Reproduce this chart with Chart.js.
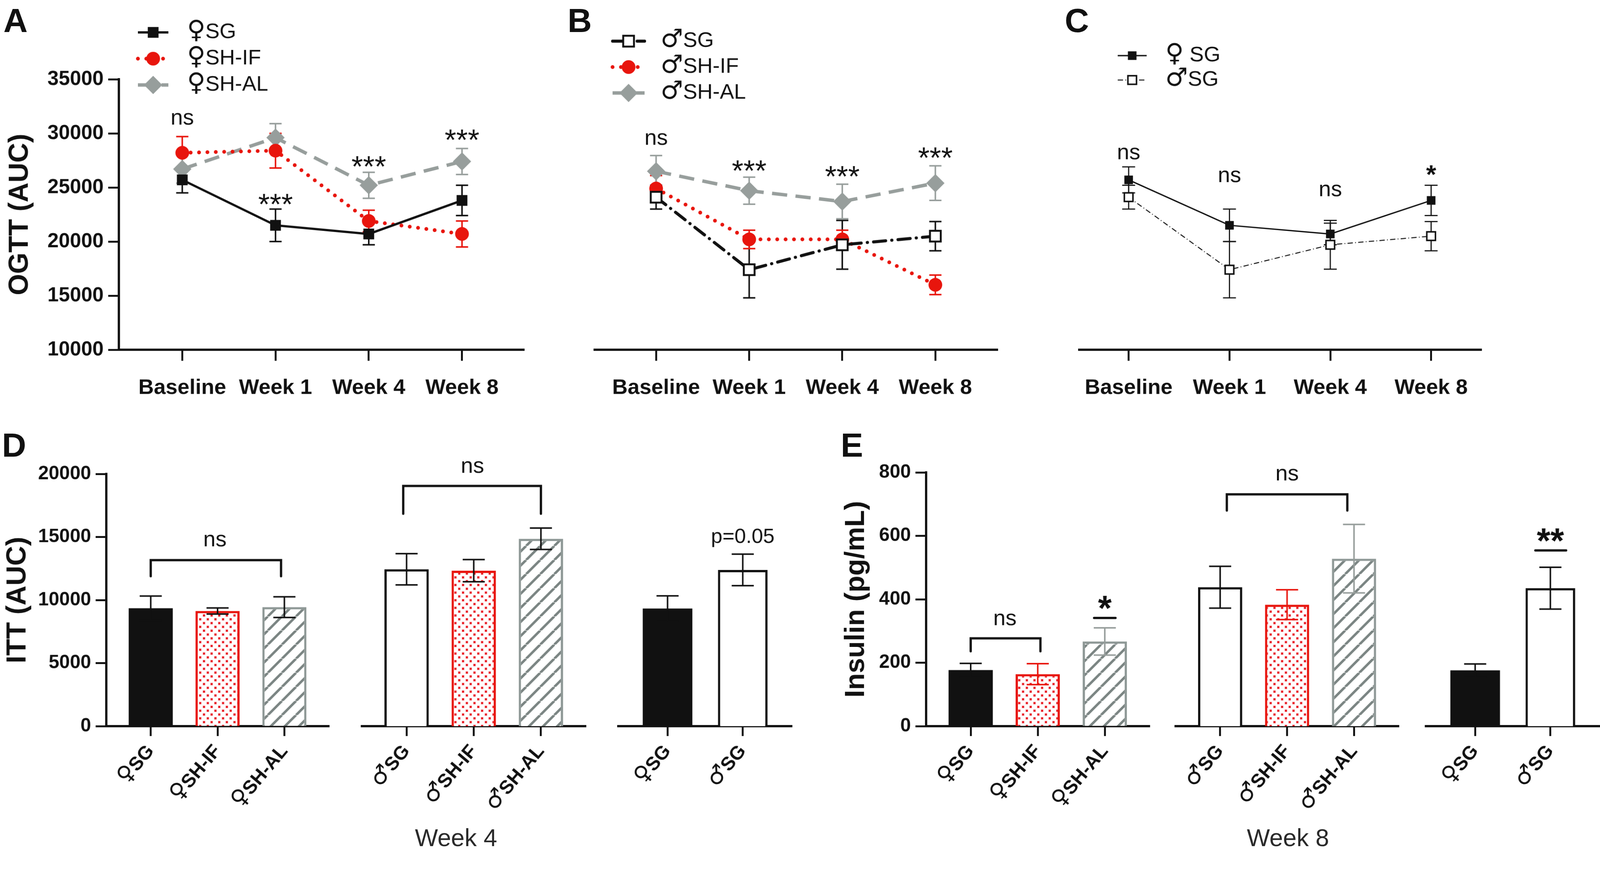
<!DOCTYPE html>
<html>
<head>
<meta charset="utf-8">
<script src="https://cdn.jsdelivr.net/npm/chart.js@4.4.1/dist/chart.umd.min.js"></script>
<style>
  @font-face { font-family: 'Sym'; src: local('DejaVu Sans'); font-weight: normal; unicode-range: U+2640, U+2642; size-adjust: 118%; }
  @font-face { font-family: 'Sym'; src: local('DejaVu Sans Bold'), local('DejaVuSans-Bold'); font-weight: bold; unicode-range: U+2640, U+2642; size-adjust: 118%; }
  html, body { margin: 0; background: #fff; overflow: hidden; }
  #page { position: absolute; left: 0; top: 0; width: 4200px; height: 2245px; transform-origin: 0 0; }
  canvas { position: absolute; }
  .txt { position: absolute; font-family: 'Liberation Sans', Arial, Helvetica, sans-serif; line-height: 1; white-space: nowrap; color: #111; }
  .letter { font-size: 88px; font-weight: bold; }
  .week { font-size: 64px; color: #2a2a2a; transform: translateX(-50%); }
</style>
</head>
<body>
<div id="page">
<div class="txt letter" style="left:9px;top:10px">A</div>
<div class="txt letter" style="left:1490px;top:10px">B</div>
<div class="txt letter" style="left:2795px;top:10px">C</div>
<div class="txt letter" style="left:5px;top:1125px">D</div>
<div class="txt letter" style="left:2207px;top:1125px">E</div>
<div class="txt week" style="left:1197px;top:2167px">Week 4</div>
<div class="txt week" style="left:3381px;top:2167px">Week 8</div>

<canvas id="cA" width="1400" height="1100" style="left:0;top:0"></canvas>
<canvas id="cB" width="1400" height="1100" style="left:1400px;top:0"></canvas>
<canvas id="cC" width="1400" height="1100" style="left:2800px;top:0"></canvas>
<canvas id="cD1" width="900" height="1145" style="left:0;top:1100px"></canvas>
<canvas id="cD2" width="700" height="1145" style="left:900px;top:1100px"></canvas>
<canvas id="cD3" width="550" height="1145" style="left:1600px;top:1100px"></canvas>
<canvas id="cE1" width="950" height="1145" style="left:2150px;top:1100px"></canvas>
<canvas id="cE2" width="650" height="1145" style="left:3050px;top:1100px"></canvas>
<canvas id="cE3" width="500" height="1145" style="left:3700px;top:1100px"></canvas>
</div>

<script>
// OGTT, time points
var weeks = ['Baseline', 'Week 1', 'Week 4', 'Week 8'];
var ogttTicks = [10000, 15000, 20000, 25000, 30000, 35000];

// females (A) - mean and SEM
var fSG = [25700, 21500, 20700, 23800];
var fSGErr = [1200, 1500, 1000, 1400];
var fIF = [28200, 28400, 21900, 20700];
var fIFErr = [1500, 1600, 1000, 1200];
var fAL = [26700, 29600, 25200, 27400];
var fALErr = [1300, 1300, 1200, 1200];

// males (B)
var mSG = [24100, 17400, 19700, 20500];
var mSGErr = [1100, 2600, 2250, 1350];
var mIF = [24900, 20200, 20200, 16000];
var mIFErr = [1200, 850, 850, 900];
var mAL = [26500, 24700, 23700, 25400];
var mALErr = [1450, 1250, 1600, 1600];

// ITT week 4 (D)
var femGroups = ['♀SG', '♀SH-IF', '♀SH-AL'];
var malGroups = ['♂SG', '♂SH-IF', '♂SH-AL'];
var sgGroups = ['♀SG', '♂SG'];
var ittTicks = [0, 5000, 10000, 15000, 20000];
var ittF = [9350, 9130, 9440];
var ittFErr = [970, 240, 820];
var ittM = [12440, 12330, 14860];
var ittMErr = [1240, 880, 850];
var ittSG = [9330, 12390];
var ittSGErr = [1000, 1250];

// insulin week 8 (E)
var insTicks = [0, 200, 400, 600, 800];
var insF = [177, 164, 267];
var insFErr = [21, 33, 43];
var insM = [438, 383, 528];
var insMErr = [66, 47, 108];
var insSG = [176, 435];
var insSGErr = [20, 66];

// significance marks: x = group index, y = value where the mark sits
var notesA = [{ x: 0, y: 31340, text: 'ns', kind: 'ns' }, { x: 1, y: 24045, text: '***', kind: 'stars' },
  { x: 2, y: 27507, text: '***', kind: 'stars' }, { x: 3, y: 29980, text: '***', kind: 'stars' }];
var notesB = [{ x: 0, y: 29485, text: 'ns', kind: 'ns' }, { x: 1, y: 27136, text: '***', kind: 'stars' },
  { x: 2, y: 26592, text: '***', kind: 'stars' }, { x: 3, y: 28323, text: '***', kind: 'stars' }];
var notesC = [{ x: 0, y: 28125, text: 'ns', kind: 'ns' }, { x: 1, y: 26023, text: 'ns', kind: 'ns' },
  { x: 2, y: 24737, text: 'ns', kind: 'ns' }, { x: 3, y: 26715, text: '*', kind: 'star1' }];
var notesD1 = [{ x1: 0, x2: 1.95, y: 13164, leg: 11885 }, { x: 0.96, y: 14707, text: 'ns', kind: 'ns' }];
var notesD2 = [{ x1: -0.05, x2: 2, y: 19051, leg: 16846 }, { x: 0.98, y: 20551, text: 'ns', kind: 'ns' }];
var notesD3 = [{ x: 1, y: 15126, text: 'p=0.05', kind: 'p' }];
var notesE1 = [{ x1: 0, x2: 1.04, y: 277, leg: 236 }, { x: 0.51, y: 337, text: 'ns', kind: 'ns' },
  { x1: 1.84, x2: 2.16, y: 341 }, { x: 2, y: 396, text: '*', kind: 'sig' }];
var notesE2 = [{ x1: 0.1, x2: 1.9, y: 731, leg: 680 }, { x: 1, y: 793, text: 'ns', kind: 'ns' }];
var notesE3 = [{ x1: 0.8, x2: 1.21, y: 554 }, { x: 1, y: 609, text: '**', kind: 'sig' }];

// ---- styles ----
var FONT = "Sym, 'Liberation Sans', Arial, Helvetica, sans-serif";
var INK = '#111111', RED = '#e8150d', GRAY = '#979e9c', GRAYBAR = '#8e9896', STRIPE = '#7b8583';
var NOTE_FONT = {
  ns: { size: 58, bold: false, k: 0.26 },
  stars: { size: 78, bold: false, k: 0.56 },
  star1: { size: 68, bold: true, k: 0.56 },
  sig: { size: 92, bold: true, k: 0.56 },
  p: { size: 54, bold: false, k: 0.36 }
};
Chart.defaults.font.family = FONT;
Chart.defaults.color = INK;

// keep the 4200 x 2245 figure inside the visible viewport
(function () {
  var s = Math.min(window.innerWidth / 4200, window.innerHeight / 2245);
  if (s > 0 && Math.abs(s - 1) > 0.002) document.getElementById('page').style.transform = 'scale(' + s + ')';
})();

function pts(v) {
  return v.map(function (y, i) { return { x: i, y: y }; });
}

function boldFont(size) {
  return { family: FONT, size: size, weight: 'bold' };
}

function dotPattern() {
  var c = document.createElement('canvas');
  c.width = 20; c.height = 20;
  var g = c.getContext('2d');
  g.fillStyle = '#fff'; g.fillRect(0, 0, 20, 20);
  g.fillStyle = 'rgba(245,150,160,0.8)';
  g.fillRect(2, 2, 7, 7); g.fillRect(12, 12, 7, 7);
  g.fillStyle = '#e8191f';
  g.fillRect(3, 3, 5, 5); g.fillRect(13, 13, 5, 5);
  return g.createPattern(c, 'repeat');
}

function hatchPattern() {
  var s = 37;
  var c = document.createElement('canvas');
  c.width = s; c.height = s;
  var g = c.getContext('2d');
  g.fillStyle = '#fff'; g.fillRect(0, 0, s, s);
  g.strokeStyle = STRIPE; g.lineWidth = 6.5;
  g.beginPath();
  for (var k = -1; k <= 1; k++) {
    g.moveTo(k * s, s); g.lineTo(k * s + s, 0);
  }
  g.stroke();
  return g.createPattern(c, 'repeat');
}

// error bars drawn through the y scale
function errorPlugin(front, cap, width) {
  function draw(chart) {
    var ctx = chart.ctx, ys = chart.scales.y;
    chart.data.datasets.forEach(function (ds, di) {
      if (!ds.errors) return;
      chart.getDatasetMeta(di).data.forEach(function (el, i) {
        var v = ds.data[i].y, e = ds.errors[i];
        var x = el.x, yt = ys.getPixelForValue(v + e), yb = ys.getPixelForValue(v - e);
        ctx.save();
        ctx.strokeStyle = Array.isArray(ds.errorColor) ? ds.errorColor[i] : ds.errorColor;
        ctx.lineWidth = width;
        ctx.beginPath();
        ctx.moveTo(x, yt); ctx.lineTo(x, yb);
        ctx.moveTo(x - cap / 2, yt); ctx.lineTo(x + cap / 2, yt);
        ctx.moveTo(x - cap / 2, yb); ctx.lineTo(x + cap / 2, yb);
        ctx.stroke();
        ctx.restore();
      });
    });
  }
  return {
    id: 'errorBars',
    beforeDatasetsDraw: function (c) { if (!front) draw(c); },
    afterDatasetsDraw: function (c) { if (front) draw(c); }
  };
}

// legend with line sample + marker
function legendPlugin(cfg) {
  return {
    id: 'sampleLegend',
    afterDraw: function (chart) {
      var ctx = chart.ctx;
      chart.data.datasets.forEach(function (ds, i) {
        var y = cfg.y + i * cfg.dy, x0 = cfg.x, x1 = cfg.x + cfg.len, xm = (x0 + x1) / 2;
        ctx.save();
        ctx.strokeStyle = ds.borderColor;
        ctx.lineWidth = ds.borderWidth;
        ctx.lineCap = ds.borderCapStyle || 'butt';
        ctx.setLineDash(ds.borderDash || []);
        ctx.beginPath(); ctx.moveTo(x0, y); ctx.lineTo(x1, y); ctx.stroke();
        ctx.setLineDash([]);
        ctx.fillStyle = ds.pointBackgroundColor;
        ctx.strokeStyle = ds.pointBorderColor || ds.borderColor;
        ctx.lineWidth = ds.pointBorderWidth || 0;
        Chart.helpers.drawPoint(ctx, { pointStyle: ds.pointStyle, radius: ds.pointRadius, borderWidth: ds.pointBorderWidth || 0, rotation: 0 }, xm, y);
        ctx.fillStyle = INK;
        ctx.font = cfg.size + 'px ' + FONT;
        ctx.textBaseline = 'middle';
        ctx.textAlign = 'left';
        ctx.fillText(ds.label, cfg.textX, y);
        ctx.restore();
      });
    }
  };
}

// ns / stars / brackets
function notesPlugin(items) {
  return {
    id: 'notes',
    afterDraw: function (chart) {
      var ctx = chart.ctx, xs = chart.scales.x, ys = chart.scales.y;
      items.forEach(function (it) {
        ctx.save();
        if (it.text) {
          var f = NOTE_FONT[it.kind];
          ctx.font = (f.bold ? 'bold ' : '') + f.size + 'px ' + FONT;
          ctx.fillStyle = INK;
          ctx.textAlign = 'center';
          ctx.textBaseline = 'alphabetic';
          ctx.fillText(it.text, xs.getPixelForValue(it.x), ys.getPixelForValue(it.y) + f.k * f.size);
        } else {
          var x1 = xs.getPixelForValue(it.x1), x2 = xs.getPixelForValue(it.x2), yt = ys.getPixelForValue(it.y);
          ctx.strokeStyle = INK;
          ctx.lineWidth = 6;
          ctx.lineCap = 'round';
          ctx.beginPath();
          if (it.leg !== undefined) {
            var yl = ys.getPixelForValue(it.leg);
            ctx.moveTo(x1, yl); ctx.lineTo(x1, yt); ctx.lineTo(x2, yt); ctx.lineTo(x2, yl);
          } else {
            ctx.moveTo(x1, yt); ctx.lineTo(x2, yt);
          }
          ctx.stroke();
        }
        ctx.restore();
      });
    }
  };
}

function axisX(cats, xmin, xmax, h, tickLen, fontSize, pad, rot) {
  return {
    type: 'linear', min: xmin, max: xmax, offset: false,
    afterBuildTicks: function (s) { s.ticks = cats.map(function (c, i) { return { value: i }; }); },
    afterFit: function (s) { s.height = h; s.paddingLeft = 0; s.paddingRight = 0; },
    grid: { offset: false, drawOnChartArea: false, tickLength: tickLen, tickWidth: 5, tickColor: INK },
    border: { width: 6, color: INK },
    ticks: {
      callback: function (v) { return cats[v]; },
      font: boldFont(fontSize), color: INK, padding: pad,
      minRotation: rot, maxRotation: rot, autoSkip: false
    }
  };
}

function axisY(show, min, max, tickVals, width, fontSize, title, titlePad) {
  return {
    type: 'linear', display: show, min: min, max: max,
    afterBuildTicks: function (s) { s.ticks = tickVals.map(function (v) { return { value: v }; }); },
    afterFit: function (s) { s.width = show ? width : 0; s.paddingTop = 0; s.paddingBottom = 0; },
    grid: { drawOnChartArea: false, tickLength: 28, tickWidth: 5, tickColor: INK },
    border: { width: 6, color: INK },
    ticks: { callback: function (v) { return String(v); }, font: boldFont(fontSize), color: INK, padding: 12 },
    title: { display: show, text: title, font: boldFont(72), color: INK, padding: { top: titlePad, bottom: 0 } }
  };
}

function baseOptions(pad, scales) {
  return {
    responsive: false, animation: false, devicePixelRatio: 1, events: [],
    layout: { padding: pad },
    plugins: { legend: { display: false }, tooltip: { enabled: false } },
    scales: scales
  };
}

function lineChart(id, datasets, xmin, xmax, padL, padR, showY, leg, notes, cap, errW) {
  new Chart(document.getElementById(id), {
    type: 'line',
    data: { datasets: datasets },
    options: baseOptions({ top: 208, left: padL, right: padR, bottom: 0 }, {
      x: axisX(weeks, xmin, xmax, 182, 29, 56, 38, 0),
      y: axisY(showY, 10000, 35000, ogttTicks, 312, 53, 'OGTT (AUC)', 10)
    }),
    plugins: [errorPlugin(false, cap, errW), legendPlugin(leg), notesPlugin(notes)]
  });
}

function lineSet(label, vals, errs, color, width, dash, cap, style, radius, fill, pbw) {
  return {
    label: label, data: pts(vals), errors: errs, errorColor: color,
    borderColor: color, backgroundColor: color, borderWidth: width,
    borderDash: dash, borderCapStyle: cap, tension: 0, fill: false,
    pointStyle: style, pointRadius: radius, pointBackgroundColor: fill,
    pointBorderColor: color, pointBorderWidth: pbw
  };
}

function barChart(id, cats, vals, errs, look, yCfg, padL, padR, xmin, xmax, notes) {
  new Chart(document.getElementById(id), {
    type: 'bar',
    data: {
      datasets: [{
        data: pts(vals), errors: errs, errorColor: look.err,
        backgroundColor: look.fill, borderColor: look.border, borderWidth: look.bw,
        barPercentage: 0.66, categoryPercentage: 1
      }]
    },
    options: baseOptions({ top: yCfg.top, left: padL, right: padR, bottom: 0 }, {
      x: axisX(cats, xmin, xmax, 339, 26, 50, 12, 50),
      y: axisY(yCfg.show, 0, yCfg.max, yCfg.ticks, yCfg.width, 50, yCfg.title, yCfg.titlePad)
    }),
    plugins: [errorPlugin(true, 58, 4), notesPlugin(notes)]
  });
}

function drawAll() {
  var DOTS = dotPattern(), HATCH = hatchPattern();

  // ---- A ----
  lineChart('cA', [
    lineSet('♀SG', fSG, fSGErr, INK, 6, [], 'butt', 'rect', 20, INK, 0),
    lineSet('♀SH-IF', fIF, fIFErr, RED, 10, [0, 22], 'round', 'circle', 18, RED, 0),
    lineSet('♀SH-AL', fAL, fALErr, GRAY, 9, [40, 22], 'butt', 'rectRot', 24, GRAY, 0)
  ], -0.68, 3.667, 0, 20, true, { x: 362, len: 80, textX: 491, y: 85, dy: 69, size: 56 }, notesA, 32, 4);

  // ---- B ----
  lineChart('cB', [
    lineSet('♂SG', mSG, mSGErr, INK, 8, [32, 16, 0.5, 16], 'round', 'rect', 20, '#fff', 5),
    lineSet('♂SH-IF', mIF, mIFErr, RED, 10, [0, 22], 'round', 'circle', 18, RED, 0),
    lineSet('♂SH-AL', mAL, mALErr, GRAY, 9, [40, 22], 'butt', 'rectRot', 24, GRAY, 0)
  ], -0.66, 3.67, 161, 181, false, { x: 208, len: 84, textX: 334, y: 108, dy: 68, size: 56 }, notesB, 32, 4);

  // ---- C ----
  lineChart('cC', [
    lineSet('♀ SG', fSG, fSGErr, INK, 3.5, [], 'butt', 'rect', 16, INK, 0),
    lineSet('♂SG', mSG, mSGErr, INK, 2.5, [14, 6, 2, 6], 'butt', 'rect', 16, '#fff', 4)
  ], -0.49, 3.5, 33, 311, false, { x: 134, len: 76, textX: 259, y: 146, dy: 64, size: 56 }, notesC, 34, 3);

  // ---- bar panels ----
  var lookThree = function (errCols) {
    return { fill: [INK, DOTS, HATCH], border: [INK, RED, GRAYBAR], bw: [0, 6, 6], err: errCols };
  };
  var lookOpen = function (errCols) {
    return { fill: ['#fff', DOTS, HATCH], border: [INK, RED, GRAYBAR], bw: [6, 6, 6], err: errCols };
  };
  var lookPair = { fill: [INK, '#fff'], border: [INK, INK], bw: [0, 6], err: [INK, INK] };

  var yD = { show: true, max: 20000, ticks: ittTicks, width: 279, title: 'ITT (AUC)', titlePad: 4, top: 144 };
  var yDh = { show: false, max: 20000, ticks: ittTicks, width: 0, title: '', titlePad: 0, top: 144 };
  var yE = { show: true, max: 800, ticks: insTicks, width: 281, title: 'Insulin (pg/mL)', titlePad: 55, top: 140 };
  var yEh = { show: false, max: 800, ticks: insTicks, width: 0, title: '', titlePad: 0, top: 140 };

  barChart('cD1', femGroups, ittF, ittFErr, lookThree([INK, INK, INK]), yD, 0, 36, -0.665, 2.67, notesD1);
  barChart('cD2', malGroups, ittM, ittMErr, lookOpen([INK, INK, INK]), yDh, 50, 62, -0.665, 2.67, notesD2);
  barChart('cD3', sgGroups, ittSG, ittSGErr, lookPair, yDh, 23, 71, -0.655, 1.655, notesD3);
  barChart('cE1', femGroups, insF, insFErr, lookThree([INK, RED, GRAY]), yE, 0, 82, -0.665, 2.67, notesE1);
  barChart('cE2', malGroups, insM, insMErr, lookOpen([INK, RED, GRAY]), yEh, 36, 28, -0.665, 2.67, notesE2);
  barChart('cE3', sgGroups, insSG, insSGErr, lookPair, yEh, 43, 1, -0.655, 1.655, notesE3);
}

// the sex symbols come from a local font face, load it before drawing
Promise.all([
  document.fonts.load('56px Sym', '♀♂'),
  document.fonts.load('bold 50px Sym', '♀♂')
]).then(drawAll, drawAll);
</script>
</body>
</html>
